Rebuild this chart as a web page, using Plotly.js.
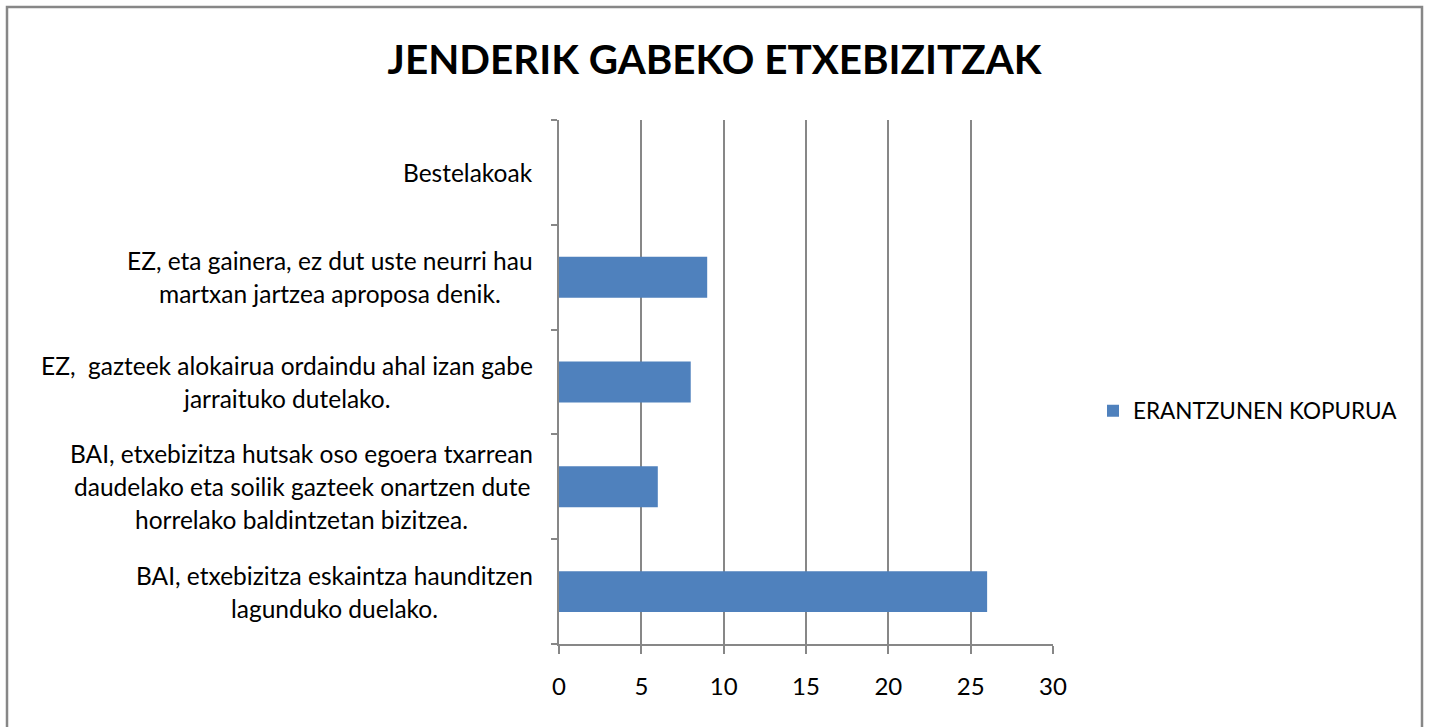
<!DOCTYPE html>
<html>
<head>
<meta charset="utf-8">
<script src="https://cdn.plot.ly/plotly-3.0.1.min.js"></script>
<style>body{margin:0;padding:0;background:#fff;}#chart{width:1429px;height:727px;}</style>
</head>
<body>
<div id="chart"></div>
<script>
const categories = [
  "BAI, etxebizitza eskaintza haunditzen<br>lagunduko duelako.",
  "BAI, etxebizitza hutsak oso egoera txarrean<br>daudelako eta soilik gazteek onartzen dute<br>horrelako baldintzetan bizitzea.",
  "EZ,  gazteek alokairua ordaindu ahal izan gabe<br>jarraituko dutelako.",
  "EZ, eta gainera, ez dut uste neurri hau<br>martxan jartzea aproposa denik.",
  "Bestelakoak"
];
const values = [26, 6, 8, 9, 0];
const seriesName = "ERANTZUNEN KOPURUA";
const xTicks = [0, 5, 10, 15, 20, 25, 30];
const titleText = "JENDERIK GABEKO ETXEBIZITZAK";

const FONT = "Lato, 'Open Sans', sans-serif";
const LABEL_SIZE = 24.5;
const GRAY = "#878787";

const ctx = document.createElement("canvas").getContext("2d");
ctx.font = LABEL_SIZE + "px Lato";

const annotations = [];
categories.forEach((c) => {
  const lines = c.split("<br>");
  const n = lines.length;
  const maxW = Math.max(...lines.map(l => ctx.measureText(l).width));
  lines.forEach((ln, i) => {
    annotations.push({
      x: 0, xref: "paper", xanchor: "center", xshift: -26 - maxW / 2,
      y: c, yref: "y", yanchor: "middle",
      yshift: ((n - 1) / 2 - i) * 33,
      text: ln, showarrow: false, align: "center",
      font: {family: FONT, size: LABEL_SIZE, color: "#000"}
    });
  });
});

const trace = {
  type: "bar", orientation: "h",
  y: categories, x: values, name: seriesName,
  marker: {color: "#4f81bd"},
  showlegend: true
};

const layout = {
  width: 1429, height: 727,
  margin: {l: 559, r: 376, t: 120, b: 83, pad: 0},
  paper_bgcolor: "#fff", plot_bgcolor: "#fff",
  title: {
    text: "<b>" + titleText + "</b>",
    x: 0.5, xref: "container", xanchor: "center",
    y: 1 - 60 / 727, yref: "container", yanchor: "middle",
    font: {family: FONT, size: 40.4, color: "#000"}
  },
  bargap: 0.61,
  xaxis: {
    range: [0, 30], tickvals: xTicks, ticktext: xTicks.map(String),
    showgrid: true, gridcolor: GRAY, gridwidth: 2,
    showline: true, linecolor: GRAY, linewidth: 2,
    ticks: "outside", ticklen: 8, tickcolor: GRAY, tickwidth: 2,
    ticklabelstandoff: 12,
    zeroline: false, fixedrange: true,
    tickfont: {family: FONT, size: 24, color: "#000"}
  },
  yaxis: {
    type: "category", categoryorder: "array", categoryarray: categories,
    showticklabels: false, showgrid: false,
    showline: true, linecolor: GRAY, linewidth: 2,
    ticks: "outside", tickson: "boundaries", ticklen: 6, tickcolor: GRAY, tickwidth: 2,
    zeroline: false, fixedrange: true
  },
  legend: {
    xref: "paper", yref: "paper",
    x: (1093 - 559) / 494, y: (644 - 411) / 524,
    xanchor: "left", yanchor: "middle",
    font: {family: FONT, size: 22.5, color: "#000"},
    bgcolor: "rgba(0,0,0,0)"
  },
  annotations: annotations,
  shapes: [{
    type: "rect", xref: "paper", yref: "paper",
    x0: (7 - 559) / 494, x1: (1422 - 559) / 494,
    y0: (644 - 740) / 524, y1: (644 - 7) / 524,
    line: {color: GRAY, width: 2.5}, fillcolor: "rgba(0,0,0,0)", layer: "below"
  }]
};

Plotly.newPlot("chart", [trace], layout, {displayModeBar: false, staticPlot: true});
</script>
</body>
</html>
